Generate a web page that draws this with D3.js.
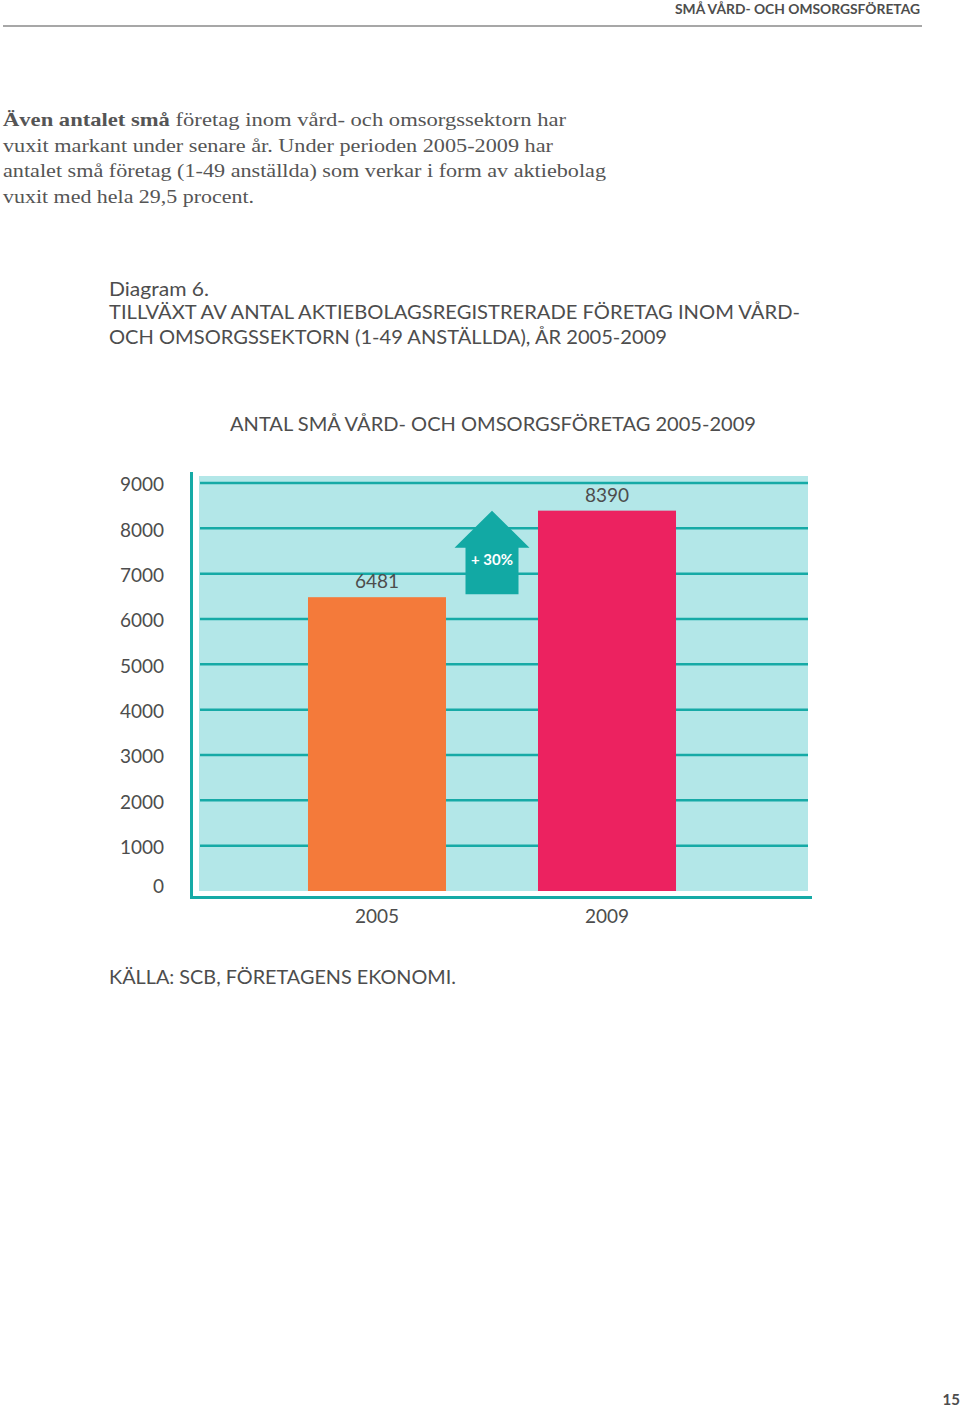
<!DOCTYPE html>
<html>
<head>
<meta charset="utf-8">
<script src="https://cdn.jsdelivr.net/npm/d3@7"></script>
<style>
  body { margin: 0; background: #fff; }
  svg { display: block; }
  .sans { font-family: Lato, "Open Sans", sans-serif; fill: #4d4d4d; }
  .serif { font-family: "Liberation Serif", "DejaVu Serif", serif; fill: #555; }
</style>
</head>
<body>
<svg id="page" width="960" height="1408"></svg>
<script>
// chart data
var years = ['2005', '2009']
var companies = [6481, 8390]
var yTicks = [0, 1000, 2000, 3000, 4000, 5000, 6000, 7000, 8000, 9000]
var growthLabel = '+ 30%'

var bodyLines = [
    [['Även antalet små', true], [' företag inom vård- och omsorgssektorn har', false]],
    [['vuxit markant under senare år. Under perioden 2005-2009 har', false]],
    [['antalet små företag (1-49 anställda) som verkar i form av aktiebolag', false]],
    [['vuxit med hela 29,5 procent.', false]]
]
var bodyWidths = [563, 550, 603, 251]

var teal = '#16aaa6',
    paleTeal = '#b3e7e8',
    barColors = ['#f47a3a', '#ec2260']

const svg = d3.select('#page')

// page header
svg.append('text')
    .attr('class', 'sans')
    .attr('x', 920).attr('y', 14)
    .attr('text-anchor', 'end')
    .style('font-size', '13px')
    .style('font-weight', 'bold')
    .attr('textLength', 245)
    .attr('lengthAdjust', 'spacingAndGlyphs')
    .text('SMÅ VÅRD- OCH OMSORGSFÖRETAG')

svg.append('line')
    .attr('x1', 3).attr('x2', 922)
    .attr('y1', 26).attr('y2', 26)
    .attr('stroke', '#8a8a8a')
    .attr('stroke-width', 1.5)

// intro text
bodyLines.forEach((parts, i) => {
    const t = svg.append('text')
        .attr('class', 'serif')
        .attr('x', 3)
        .attr('y', 126 + i * 25.7)
        .style('font-size', '19.5px')
        .attr('textLength', bodyWidths[i])
        .attr('lengthAdjust', 'spacingAndGlyphs')
    parts.forEach(p => {
        t.append('tspan')
            .style('font-weight', p[1] ? 'bold' : 'normal')
            .text(p[0])
    })
})

// headings
var headings = [
    ['Diagram 6.', 296, 100],
    ['TILLVÄXT AV ANTAL AKTIEBOLAGSREGISTRERADE FÖRETAG INOM VÅRD-', 319, 691],
    ['OCH OMSORGSSEKTORN (1-49 ANSTÄLLDA), ÅR 2005-2009', 344, 558]
]
headings.forEach(h => {
    svg.append('text')
        .attr('class', 'sans')
        .attr('x', 109).attr('y', h[1])
        .style('font-size', '20px')
        .attr('textLength', h[2])
        .attr('lengthAdjust', 'spacingAndGlyphs')
        .text(h[0])
})

svg.append('text')
    .attr('class', 'sans')
    .attr('x', 493).attr('y', 431)
    .attr('text-anchor', 'middle')
    .style('font-size', '20px')
    .attr('textLength', 526)
    .attr('lengthAdjust', 'spacingAndGlyphs')
    .text('ANTAL SMÅ VÅRD- OCH OMSORGSFÖRETAG 2005-2009')

// chart
var plotLeft = 199, plotRight = 808, plotTop = 476, plotBottom = 891

const y = d3.scaleLinear().domain([0, 9000]).range([891, 483])
const x = d3.scaleBand()
    .domain(years)
    .range([200, 808])
    .paddingInner(0.4)
    .paddingOuter(0.5217)
    .align(0.45)

const g = svg.append('g')

g.append('rect')
    .attr('x', plotLeft).attr('y', plotTop)
    .attr('width', plotRight - plotLeft)
    .attr('height', plotBottom - plotTop)
    .attr('fill', paleTeal)

g.selectAll('line.grid')
    .data(yTicks.filter(d => d > 0))
    .enter()
    .append('line')
    .attr('class', 'grid')
    .attr('x1', 200).attr('x2', plotRight)
    .attr('y1', d => y(d)).attr('y2', d => y(d))
    .attr('stroke', teal)
    .attr('stroke-width', 2.5)

g.selectAll('rect.bar')
    .data(companies)
    .enter()
    .append('rect')
    .attr('class', 'bar')
    .attr('x', (d, i) => x(years[i]))
    .attr('y', d => y(d))
    .attr('width', x.bandwidth())
    .attr('height', d => y(0) - y(d))
    .attr('fill', (d, i) => barColors[i])

g.selectAll('text.value')
    .data(companies)
    .enter()
    .append('text')
    .attr('class', 'sans value')
    .attr('x', (d, i) => x(years[i]) + x.bandwidth() / 2)
    .attr('y', d => y(d) - 9)
    .attr('text-anchor', 'middle')
    .style('font-size', '19px')
    .text(d => d)

// growth arrow between the two bars, from 2005 level up to 2009 level
var arrowX = (x(years[0]) + x.bandwidth() + x(years[1])) / 2,
    tipY = y(companies[1]),
    baseY = y(companies[0]) - 3,
    shaftHalf = 26.5,
    headHalf = 37.5,
    headH = 37

g.append('path')
    .attr('d', d3.line()([
        [arrowX, tipY],
        [arrowX + headHalf, tipY + headH],
        [arrowX + shaftHalf, tipY + headH],
        [arrowX + shaftHalf, baseY],
        [arrowX - shaftHalf, baseY],
        [arrowX - shaftHalf, tipY + headH],
        [arrowX - headHalf, tipY + headH]
    ]) + 'Z')
    .attr('fill', '#12a9a4')

g.append('text')
    .attr('x', arrowX)
    .attr('y', tipY + 54)
    .attr('text-anchor', 'middle')
    .style('font-family', 'Lato, sans-serif')
    .style('font-size', '15px')
    .style('font-weight', 'bold')
    .style('fill', '#fff')
    .text(growthLabel)

// y tick labels
const yAxis = d3.axisLeft(y).tickValues(yTicks).tickSize(0).tickPadding(0).tickFormat(d => d)
const yAxisG = svg.append('g')
    .attr('transform', 'translate(164,0)')
    .call(yAxis)
yAxisG.select('.domain').remove()
yAxisG.selectAll('text')
    .attr('class', 'sans')
    .attr('dy', null)
    .attr('y', d => d === 0 ? -3 : 3)
    .attr('dominant-baseline', 'middle')
    .style('font-family', 'Lato, "Open Sans", sans-serif')
    .style('font-size', '19px')
    .style('fill', '#4d4d4d')

// x tick labels
const xAxisG = svg.append('g')
    .attr('transform', 'translate(0,923)')
    .call(d3.axisBottom(x).tickSize(0).tickPadding(0))
xAxisG.select('.domain').remove()
xAxisG.selectAll('text')
    .attr('dy', null)
    .attr('y', 0)
    .style('font-family', 'Lato, "Open Sans", sans-serif')
    .style('font-size', '19px')
    .style('fill', '#4d4d4d')

// axis frame lines
svg.append('path')
    .attr('d', 'M191.5,472 V897.5 H812')
    .attr('fill', 'none')
    .attr('stroke', teal)
    .attr('stroke-width', 3)

// source
svg.append('text')
    .attr('class', 'sans')
    .attr('x', 109).attr('y', 984)
    .style('font-size', '19px')
    .attr('textLength', 347)
    .attr('lengthAdjust', 'spacingAndGlyphs')
    .text('KÄLLA: SCB, FÖRETAGENS EKONOMI.')

// page number
svg.append('text')
    .attr('class', 'sans')
    .attr('x', 960).attr('y', 1405)
    .attr('text-anchor', 'end')
    .style('font-size', '15px')
    .style('font-weight', 'bold')
    .text('15')
</script>
</body>
</html>
